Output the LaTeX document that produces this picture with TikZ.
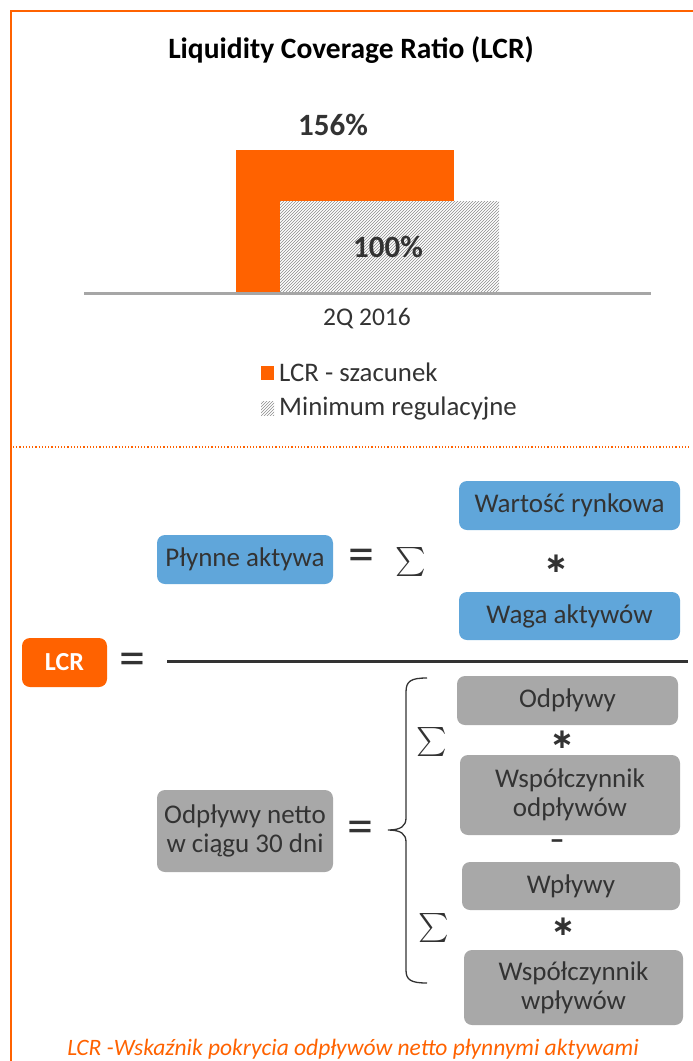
\documentclass[tikz,border=0pt]{standalone}
\usepackage{fontspec}
\usepackage{graphicx}
\setmainfont{Carlito}
\newfontfamily\opfont{DejaVu Sans}
\usetikzlibrary{patterns}
\definecolor{ingorange}{HTML}{FF6200}
\definecolor{ingblue}{HTML}{60A6DA}
\definecolor{inggray}{HTML}{A8A8A8}
\definecolor{txt}{HTML}{333333}
\definecolor{hatch}{HTML}{8C8C8C}
\definecolor{axisgray}{HTML}{A6A6A6}
\tikzset{
  box/.style={rounded corners=8pt, text=txt, align=center, inner sep=0pt, font=\fontsize{27}{29}\selectfont},
  bluebox/.style={box, fill=ingblue},
  graybox/.style={box, fill=inggray},
  eqsign/.style={text=txt, font=\fontsize{52}{52}\selectfont, inner sep=0pt},
  sumsign/.style={text=txt, inner sep=0pt},
  opsign/.style={text=txt, font=\fontsize{30}{30}\selectfont\bfseries, inner sep=0pt},
  starsign/.style={text=txt, font=\fontsize{28}{28}\selectfont\opfont\bfseries, inner sep=0pt},
}
\newcommand{\bigsum}{\scalebox{2.9}{$\sum$}}
\begin{document}
\begin{tikzpicture}[x=1pt,y=-1pt]
\useasboundingbox (0,0) rectangle (693,1061);
% frame
\draw[ingorange, line width=1.5pt] (693,11) -- (11,11) -- (11,1061);
% title
\node[font=\fontsize{29.5}{31}\selectfont\bfseries, text=black] (title) at (351,50) {Liquidity Coverage Ratio (LCR)};
% chart
\fill[ingorange] (236,150) rectangle (454,292);
\fill[white] (280,201) rectangle (499,292);
\fill[pattern=north east lines, pattern color=hatch] (280,201) rectangle (499,292);
\node[font=\fontsize{31}{32}\selectfont\bfseries, text=txt] (v1) at (333,125) {156\%};
\node[font=\fontsize{31}{32}\selectfont\bfseries, text=txt] (v2) at (388,247) {100\%};
\draw[axisgray, line width=3pt] (84,293) -- (651,293);
\node[font=\fontsize{25.5}{27}\selectfont, text=txt] (cat) at (367,319) {2Q 2016};
% legend
\fill[ingorange] (261,366) rectangle (274,380);
\node[anchor=west, font=\fontsize{26.8}{28}\selectfont, text=txt, inner sep=0pt] (leg1) at (279,372) {LCR - szacunek};
\fill[pattern=north east lines, pattern color=hatch] (261,401) rectangle (274,415);
\node[anchor=west, font=\fontsize{26.8}{28}\selectfont, text=txt, inner sep=0pt] (leg2) at (279,408) {Minimum regulacyjne};
% separator
\draw[ingorange, line width=1.2pt, dotted] (13,447) -- (691,447);
% numerator
\node[bluebox, minimum width=176pt, minimum height=49pt] (pa) at (245,559.5) {Płynne aktywa};
\node[eqsign] (eq1) at (361,560) {=};
\node[sumsign] (s1) at (411,562) {\bigsum};
\node[bluebox, minimum width=221pt, minimum height=49pt] (wr) at (569.5,505.5) {Wartość rynkowa};
\node[starsign] (m1) at (556,564) {∗};
\node[bluebox, minimum width=221pt, minimum height=48pt] (wa) at (569.5,616) {Waga aktywów};
% LCR
\node[box, fill=ingorange, text=white, font=\fontsize{26}{28}\selectfont\bfseries, minimum width=85pt, minimum height=49pt] (lcr) at (64.5,662.5) {LCR};
\node[eqsign] (eq0) at (132,664) {=};
\coordinate (fl) at (167,661);
\coordinate (fr) at (688,661);
\draw[txt, line width=3pt] (fl) -- (fr);
% denominator
\node[graybox, minimum width=176pt, minimum height=82pt] (net) at (245,831) {Odpływy netto\\w ciągu 30 dni};
\node[eqsign] (eq2) at (360,832) {=};
\draw[txt, line width=1.3pt] (427,678) .. controls (411,678) and (406,681) .. (406,692) -- (406,818) .. controls (406,826) and (401,830) .. (388,830) .. controls (401,830) and (406,834) .. (406,842) -- (406,970) .. controls (406,980) and (411,983) .. (427,983);
\node[sumsign] (s2) at (432,742) {\bigsum};
\node[sumsign] (s3) at (434,928) {\bigsum};
\node[graybox, minimum width=221pt, minimum height=49pt] (odp) at (567.5,700.5) {Odpływy};
\node[starsign] (m2) at (562,740) {∗};
\node[graybox, minimum width=220pt, minimum height=80pt] (wodp) at (570,795) {Współczynnik\\odpływów};
\node[opsign] (minus) at (557,845) {–};
\node[graybox, minimum width=218pt, minimum height=48pt] (wpl) at (571,886) {Wpływy};
\node[starsign] (m3) at (563,927) {∗};
\node[graybox, minimum width=219pt, minimum height=75pt] (wwpl) at (573.5,987.5) {Współczynnik\\wpływów};
% caption
\node[font=\fontsize{23.5}{25}\selectfont\itshape, text=ingorange] (cap) at (353,1049) {LCR -Wskaźnik pokrycia odpływów netto płynnymi aktywami};
\end{tikzpicture}
\end{document}
